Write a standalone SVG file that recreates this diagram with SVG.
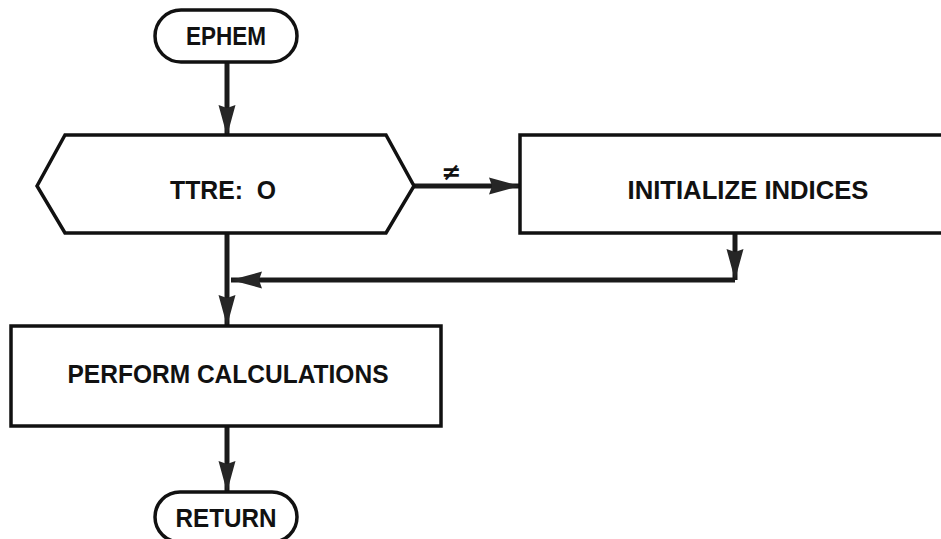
<svg xmlns="http://www.w3.org/2000/svg" width="941" height="539" viewBox="0 0 941 539">
<style>
.box{fill:#fff;stroke:#111;stroke-width:3.5}
.lbl{font-family:"Liberation Sans",Arial,sans-serif;font-weight:bold;font-size:26px;fill:#111;text-anchor:middle}
.con{fill:none;stroke:#1a1a1a;stroke-width:5}
.head{fill:#262626}
</style>
<defs>
<marker id="arr" markerUnits="userSpaceOnUse" markerWidth="34" markerHeight="22" refX="31" refY="10" orient="auto">
<path class="head" d="M0,1.5 L31,10 L0,18.5 L3,10 Z"/>
</marker>
</defs>
<rect width="941" height="539" fill="#fff"/>
<g id="connectors">
<line class="con" x1="227" y1="62" x2="227" y2="136" marker-end="url(#arr)"/>
<line class="con" x1="414" y1="186" x2="520" y2="186" marker-end="url(#arr)"/>
<line class="con" x1="735" y1="234" x2="735" y2="280" marker-end="url(#arr)"/>
<polyline class="con" points="735,280 231,280" marker-end="url(#arr)"/>
<line class="con" x1="227" y1="234" x2="227" y2="326" marker-end="url(#arr)"/>
<line class="con" x1="227" y1="426" x2="227" y2="492" marker-end="url(#arr)"/>
<text x="451" y="180" font-family="'DejaVu Sans',sans-serif" font-size="24" font-weight="bold" fill="#111" text-anchor="middle">≠</text>
</g>
<g id="ephem">
<rect class="box" x="155" y="10" width="142" height="52" rx="26"/>
<text class="lbl" x="226" y="45" textLength="80" lengthAdjust="spacingAndGlyphs">EPHEM</text>
</g>
<g id="ttre">
<polygon class="box" points="37,186 65,135 386,135 414,186 386,233 65,233"/>
<text class="lbl" x="223" y="199" xml:space="preserve" textLength="106" lengthAdjust="spacingAndGlyphs">TTRE:  O</text>
</g>
<g id="initialize">
<rect class="box" x="520" y="135" width="440" height="98"/>
<text class="lbl" x="748" y="199" textLength="241" lengthAdjust="spacingAndGlyphs">INITIALIZE INDICES</text>
</g>
<g id="perform">
<rect class="box" x="11" y="326" width="430" height="100"/>
<text class="lbl" x="228" y="383" textLength="321" lengthAdjust="spacingAndGlyphs">PERFORM CALCULATIONS</text>
</g>
<g id="return">
<rect class="box" x="155" y="492" width="142" height="50" rx="25"/>
<text class="lbl" x="226" y="527" textLength="101" lengthAdjust="spacingAndGlyphs">RETURN</text>
</g>
</svg>
